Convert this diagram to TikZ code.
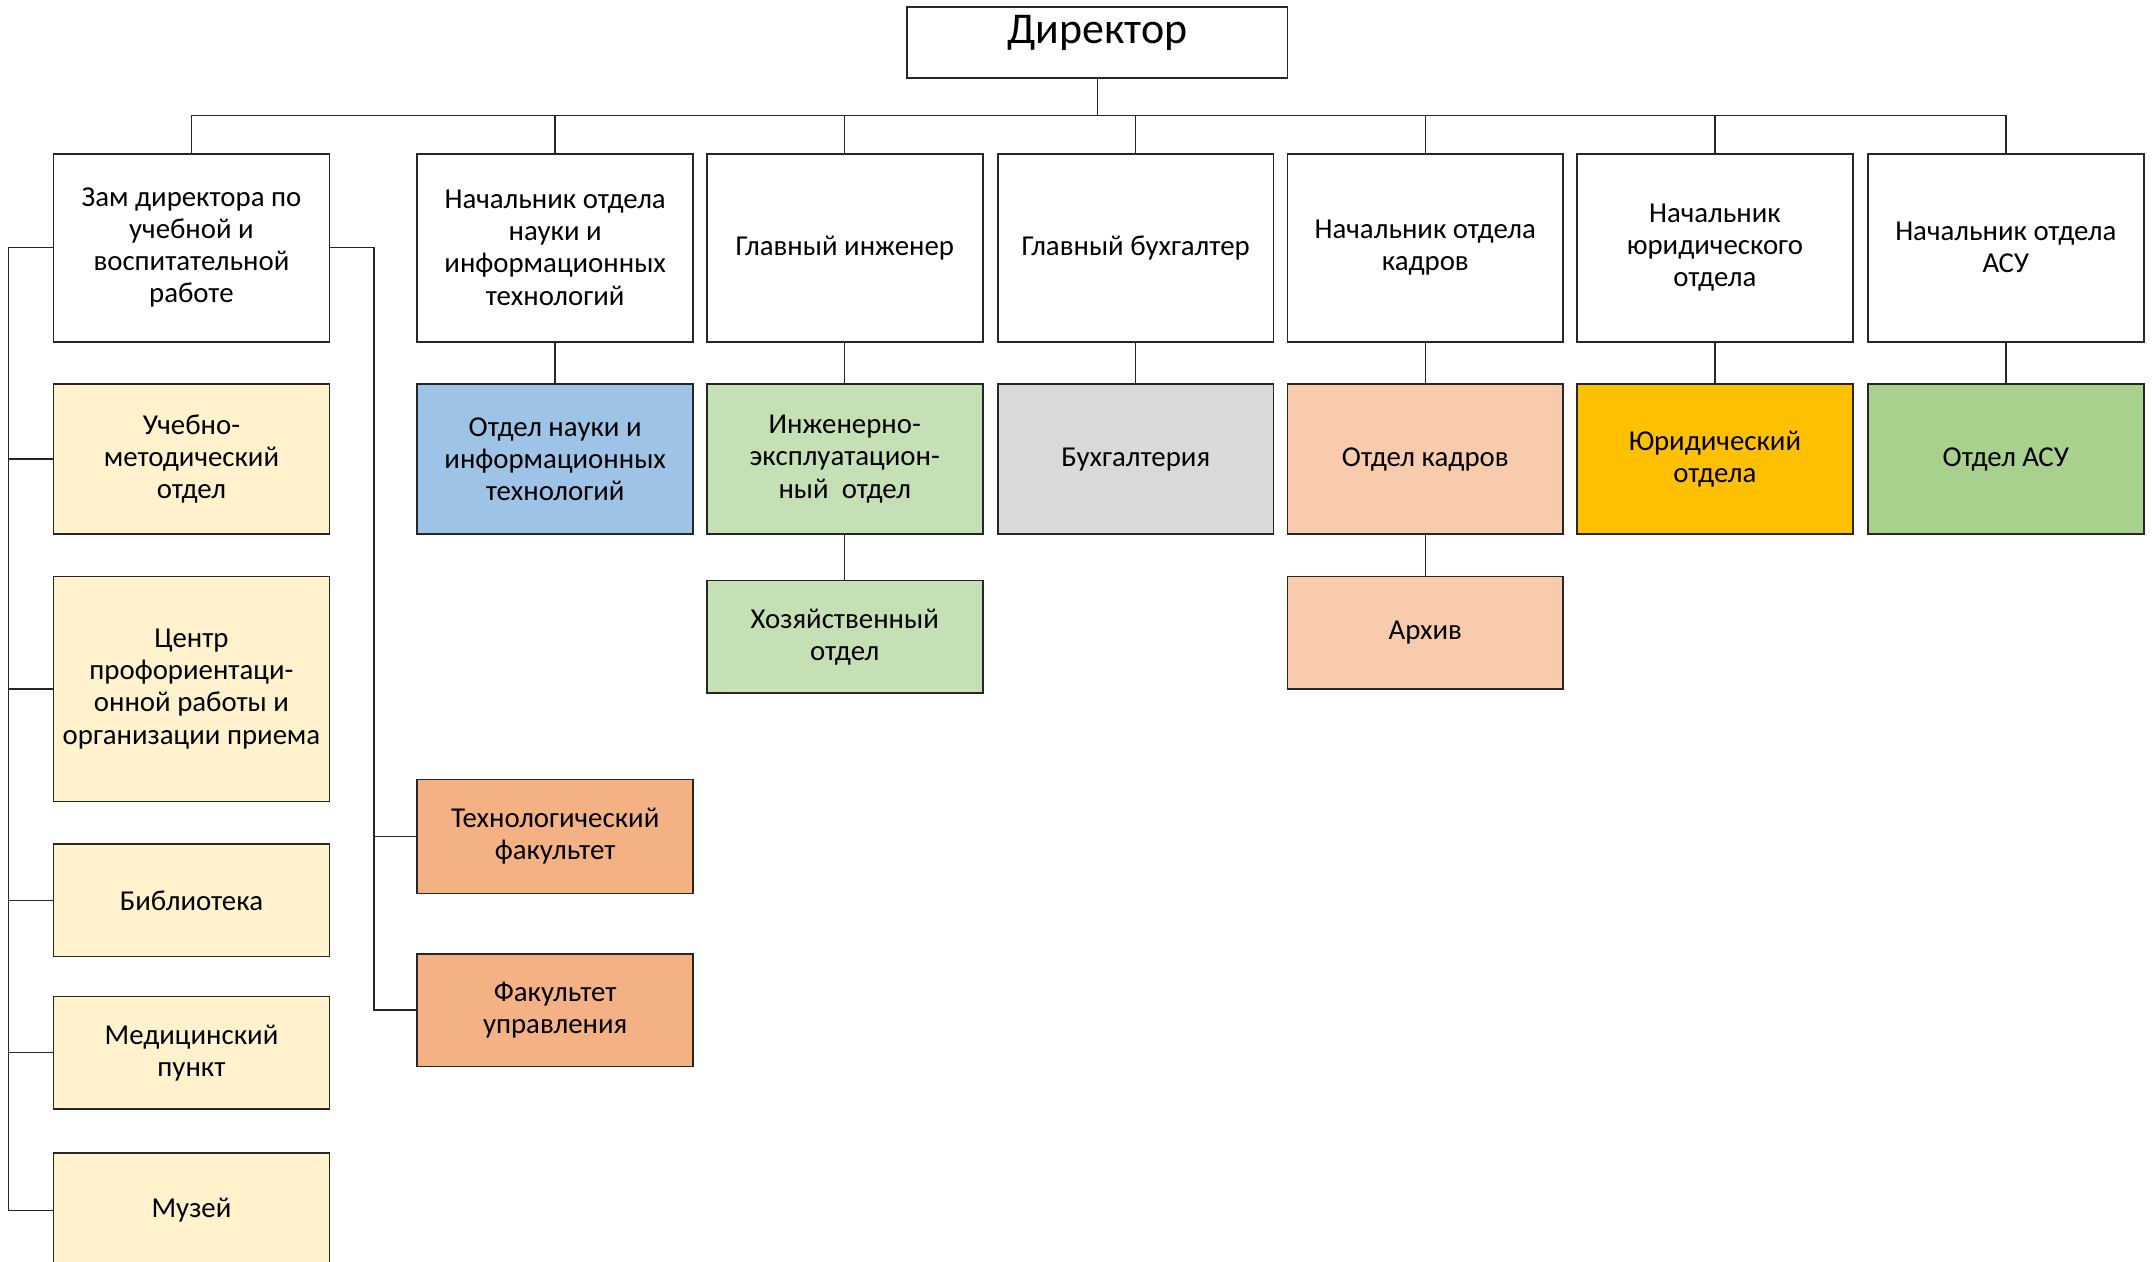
\documentclass[tikz,border=0pt]{standalone}
\usepackage{fontspec}
\setmainfont{Carlito}
\usetikzlibrary{positioning}

\definecolor{zamyel}{HTML}{FFF2CC}
\definecolor{naublue}{HTML}{9DC3E6}
\definecolor{inzgreen}{HTML}{C5E0B4}
\definecolor{buhgray}{HTML}{D9D9D9}
\definecolor{kadpeach}{HTML}{F8CBAD}
\definecolor{yurgold}{HTML}{FFC000}
\definecolor{asugreen}{HTML}{A9D18E}
\definecolor{fakorange}{HTML}{F4B183}

\tikzset{
  unit/.style={draw=black!85, line width=0.6pt, align=center, inner sep=0pt,
    minimum width=100.5pt, font=\fontsize{10.5}{11.7}\selectfont},
  head/.style={unit, minimum height=68.5pt},
  dept/.style={unit, minimum height=54.5pt},
  small/.style={unit, minimum height=41pt},
  link/.style={line width=0.5pt, draw=black!85},
}

\begin{document}
\begin{tikzpicture}[x=0.5pt,y=-0.5pt]
    \useasboundingbox (0,0) rectangle (1568,919.5);
    % director
    \node[unit, minimum width=138.5pt, minimum height=26pt, text height=10pt,
      text depth=9pt, font=\fontsize{16}{18}\selectfont] (dir) at (799.5,31) {Директор};
    % heads
    \node[head] (zam) at (139.5,180.5) {Зам директора по\\учебной и\\воспитательной\\работе};
    \node[head] (nauka) at (404.5,180.5) {Начальник отдела\\науки и\\информационных\\технологий};
    \node[head] (inzh) at (615.5,180.5) {Главный инженер};
    \node[head] (buh) at (827.5,180.5) {Главный бухгалтер};
    \node[head] (kadr) at (1038.5,180.5) {Начальник отдела\\кадров};
    \node[head] (yur) at (1249.5,180.5) {Начальник\\юридического\\отдела};
    \node[head] (asu) at (1461.5,180.5) {Начальник отдела\\АСУ};
    % departments
    \node[dept, fill=zamyel] (umo) at (139.5,334.5) {Учебно-\\методический\\отдел};
    \node[dept, fill=naublue] (onit) at (404.5,334.5) {Отдел науки и\\информационных\\технологий};
    \node[dept, fill=inzgreen] (ieo) at (615.5,334.5) {Инженерно-\\эксплуатацион-\\ный~~отдел};
    \node[dept, fill=buhgray] (bux) at (827.5,334.5) {Бухгалтерия};
    \node[dept, fill=kadpeach] (okadr) at (1038.5,334.5) {Отдел кадров};
    \node[dept, fill=yurgold] (oyur) at (1249.5,334.5) {Юридический\\отдела};
    \node[dept, fill=asugreen] (oasu) at (1461.5,334.5) {Отдел АСУ};
    % lower units
    \node[small, fill=inzgreen] (hoz) at (615.5,464) {Хозяйственный\\отдел};
    \node[small, fill=kadpeach] (arh) at (1038.5,461) {Архив};
    \node[unit, fill=zamyel, minimum height=82pt] (centr) at (139.5,502) {Центр\\профориентаци-\\онной работы и\\организации приема};
    \node[small, fill=zamyel] (bibl) at (139.5,656) {Библиотека};
    \node[small, fill=zamyel] (med) at (139.5,767) {Медицинский\\пункт};
    \node[unit, fill=zamyel, minimum height=42pt] (muz) at (139.5,882) {Музей};
    \node[unit, fill=fakorange, minimum height=41.5pt] (tfak) at (404.5,609.5) {Технологический\\факультет};
    \node[unit, fill=fakorange, minimum height=41pt] (ufak) at (404.5,736) {Факультет\\управления};
    % bus
    \coordinate (bus) at (799.5,84);
    \draw[link] (dir.south) -- (bus);
    \draw[link] (bus -| zam.north) -- (bus -| asu.north);
    \foreach \n in {zam,nauka,inzh,buh,kadr,yur,asu}
      \draw[link] (bus -| \n.north) -- (\n.north);
    \foreach \a/\b in {nauka/onit,inzh/ieo,buh/bux,kadr/okadr,yur/oyur,asu/oasu,ieo/hoz,okadr/arh}
      \draw[link] (\a.south) -- (\b.north);
    % left rail
    \draw[link] (zam.west) -- ++(-32,0) coordinate (lrail) |- (muz.west);
    \foreach \n in {umo,centr,bibl,med}
      \draw[link] (lrail |- \n.west) -- (\n.west);
    % right rail
    \draw[link] (zam.east) -- ++(32,0) coordinate (rrail) |- (ufak.west);
    \draw[link] (rrail |- tfak.west) -- (tfak.west);
\end{tikzpicture}
\end{document}
